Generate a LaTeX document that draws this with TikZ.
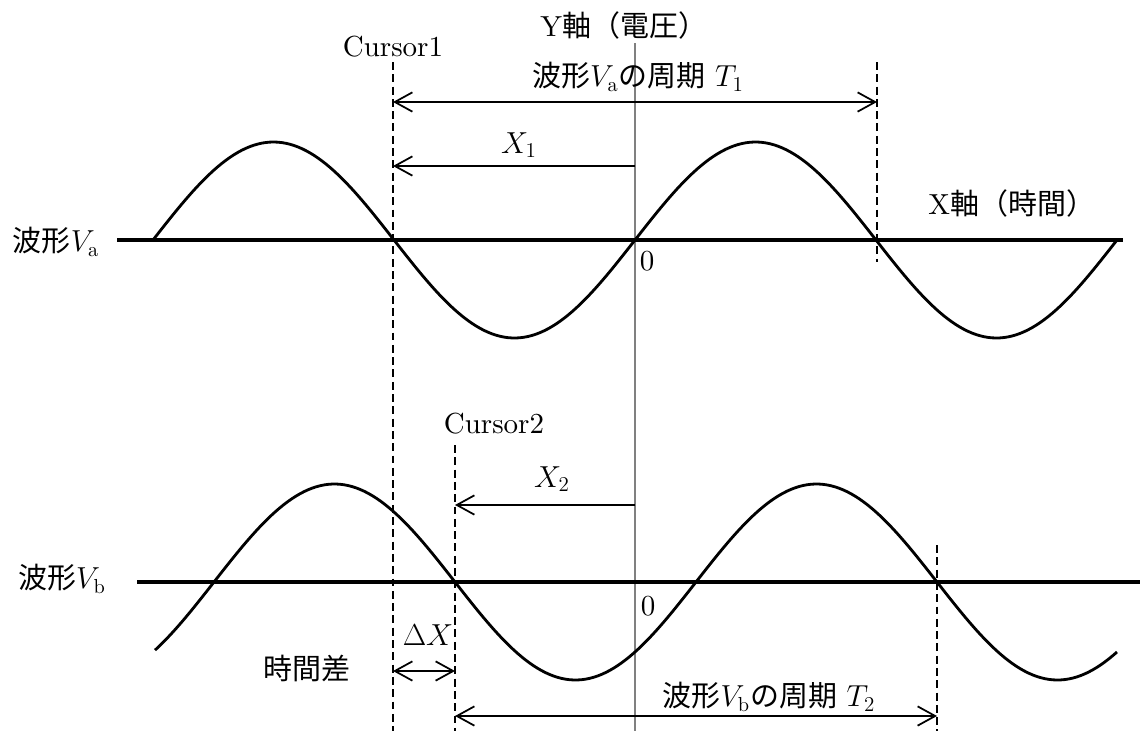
\documentclass[tikz,border=0pt]{standalone}
\usepackage{fontspec}
\setmainfont{lmroman10-regular.otf}[ItalicFont=lmroman10-italic.otf]
\newfontfamily\jpfont{Noto Sans CJK JP}
\usetikzlibrary{arrows.meta,positioning}
\newcommand{\jp}[1]{{\jpfont #1}}

\begin{document}
\begin{tikzpicture}[x=0.02cm, y=-0.02cm,
    wave/.style={line width=1.6pt, line join=round},
    axisline/.style={line width=2pt},
    yaxisline/.style={line width=1.1pt, gray},
    cursorline/.style={line width=1pt, dash pattern=on 4.5pt off 2.5pt},
    dimarrow/.style={line width=1pt,
                {Straight Barb[length=10pt,width=11pt]}-{Straight Barb[length=10pt,width=11pt]}},
    tiparrow/.style={line width=1pt, -{Straight Barb[length=10pt,width=11pt]}},
    lbl/.style={inner sep=0pt, font=\fontsize{16.5}{20}\selectfont},
  ]
  \useasboundingbox (0,0) rectangle (1140,731);

  %% Y axis
  \coordinate (ytop) at (635,43);
  \coordinate (ybot) at (635,731);
  \draw[yaxisline] (ytop) -- (ybot);
  \node[lbl, anchor=west] (yaxlbl) at (540,25) {Y\jp{軸（電圧）}};

  %% Cursor and period marker lines
  \coordinate (c1top) at (393,62);
  \coordinate (c1bot) at (393,731);
  \coordinate (c2top) at (455,445);
  \coordinate (c2bot) at (455,731);
  \coordinate (p1top) at (877,62);
  \coordinate (p1bot) at (877,262);
  \coordinate (p2top) at (937,545);
  \coordinate (p2bot) at (937,731);
  \draw[cursorline] (c1top) -- (c1bot);
  \draw[cursorline] (c2top) -- (c2bot);
  \draw[cursorline] (p1top) -- (p1bot);
  \draw[cursorline] (p2top) -- (p2bot);
  \node[lbl] (cur1lbl) at (393,47) {Cursor1};
  \node[lbl] (cur2lbl) at (494,424) {Cursor2};

  %% Waveform Va
  \coordinate (axl) at (117,240);
  \coordinate (axr) at (1123,240);
  \draw[axisline] (axl) -- (axr);
  \draw[wave, domain=153:1117, samples=240]
    plot (\x, {240 - 98*sin(((\x-635)/482)*360)});
  \node[lbl] (walbl) at (56,242) {\jp{波形}$V_{\mathrm{a}}$};
  \node[lbl, anchor=west] (xaxlbl) at (928,203) {X\jp{軸（時間）}};
  \node[lbl] (zeroa) at (647,261) {0};

  %% Period T1 and X1
  \coordinate (t1l) at (393,102);
  \coordinate (t1r) at (877,102);
  \draw[dimarrow] (t1l) -- (t1r);
  \node[lbl] (ta1lbl) at (638,77) {\jp{波形}$V_{\mathrm{a}}$\jp{の周期}\ $T_1$};
  \coordinate (x1s) at (635,166);
  \coordinate (x1e) at (393,166);
  \draw[tiparrow] (x1s) -- (x1e);
  \node[lbl] (x1lbl) at (519,145) {$X_1$};

  %% Waveform Vb
  \coordinate (bxl) at (137,582);
  \coordinate (bxr) at (1140,582);
  \draw[axisline] (bxl) -- (bxr);
  \draw[wave, domain=155:1117, samples=240]
    plot (\x, {582 + 98*sin(((\x-455)/482)*360)});
  \node[lbl] (wblbl) at (62,579) {\jp{波形}$V_{\mathrm{b}}$};
  \node[lbl] (zerob) at (648,606) {0};

  %% X2, time difference and period T2
  \coordinate (x2s) at (635,505);
  \coordinate (x2e) at (455,505);
  \draw[tiparrow] (x2s) -- (x2e);
  \node[lbl] (x2lbl) at (552,479) {$X_2$};
  \coordinate (dxl) at (393,671);
  \coordinate (dxr) at (455,671);
  \draw[dimarrow] (dxl) -- (dxr);
  \node[lbl] (dxlbl) at (428,635) {$\Delta X$};
  \node[lbl] (difflbl) at (307,668) {\jp{時間差}};
  \coordinate (t2l) at (455,716);
  \coordinate (t2r) at (937,716);
  \draw[dimarrow] (t2l) -- (t2r);
  \node[lbl] (tb2lbl) at (769,697) {\jp{波形}$V_{\mathrm{b}}$\jp{の周期}\ $T_2$};
\end{tikzpicture}
\end{document}
